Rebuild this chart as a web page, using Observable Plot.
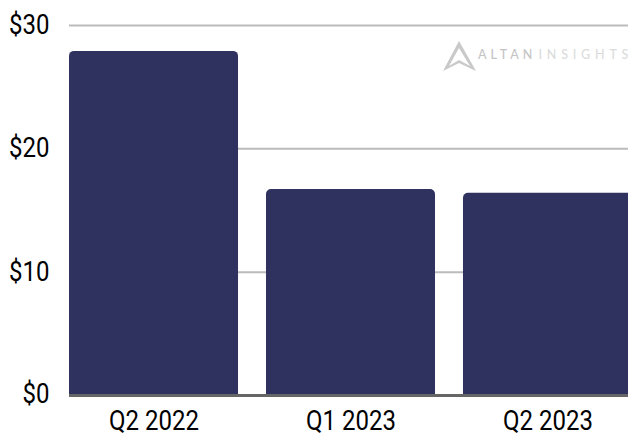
<!DOCTYPE html>
<html>
<head>
<meta charset="utf-8">
<script src="https://cdn.jsdelivr.net/npm/d3@7"></script>
<script src="https://cdn.jsdelivr.net/npm/@observablehq/plot@0.6"></script>
<style>
  html, body { margin: 0; background: #fff; overflow: hidden; }
  #chart { position: relative; width: 628px; height: 434px; overflow: hidden; }
  #chart svg.main { display: block; }
  #logo { position: absolute; left: 440px; top: 38px; }
</style>
</head>
<body>
<div id="chart"></div>
<script>
// Quarterly values in dollars
const quarters = ["Q2 2022", "Q1 2023", "Q2 2023"];
const amounts = [27.9, 16.7, 16.4];
const gridValues = [0, 10, 20, 30];

const rows = quarters.map((quarter, i) => ({quarter, amount: amounts[i]}));

const chart = Plot.plot({
  width: 628,
  height: 434,
  marginTop: 25,
  marginBottom: 39,
  marginLeft: 69,
  marginRight: -4,
  style: {background: "#fff", fontFamily: "Roboto, sans-serif", fontSize: "27px", color: "#000"},
  x: {domain: quarters, round: false, paddingInner: 0.142, paddingOuter: 0, label: null, tickSize: 0, tickPadding: 15},
  y: {domain: [0, 30], ticks: gridValues, tickFormat: d => `$${d}`, label: null, tickSize: 0, tickPadding: 20},
  marks: [
    Plot.ruleY(gridValues.slice(1), {stroke: "#bbb", strokeWidth: 2, strokeOpacity: 1}),
    Plot.barY(rows, {x: "quarter", y: "amount", fill: "#2f315f", ry1: 5}),
    Plot.ruleY([0], {stroke: "#666", strokeWidth: 3})
  ]
});
chart.classList.add("main");
document.getElementById("chart").appendChild(chart);

// Brand mark sitting over the top right of the plot
const logo = d3.select("#chart").append("svg")
  .attr("id", "logo").attr("width", 188).attr("height", 36);
logo.append("path")
  .attr("d", "M19 3 L3 33 L19 25 L36 33 Z M19 10 L9 28 L19 22 L30 28 Z")
  .attr("fill", "#c9c9c9").attr("fill-rule", "evenodd");
const word = logo.append("text").attr("x", 38).attr("y", 21)
  .attr("font-family", "Lato, sans-serif").attr("font-size", 12.5).attr("font-weight", 500);
word.append("tspan").attr("fill", "#c4c4c4").attr("letter-spacing", 4).text("ALTAN");
word.append("tspan").attr("fill", "#dcdcdc").attr("letter-spacing", 4.8).attr("dx", 2).text("INSIGHTS");

// Taller, narrower axis labels: keep the width they would have at 24px
d3.select(chart).selectAll("text").each(function() {
  this.setAttribute("textLength", this.getComputedTextLength() * 24 / 27);
  this.setAttribute("lengthAdjust", "spacingAndGlyphs");
  // Lift the zero label clear of the baseline
  if (this.textContent === "$0") this.setAttribute("dy", "-1.5");
});
</script>
</body>
</html>
